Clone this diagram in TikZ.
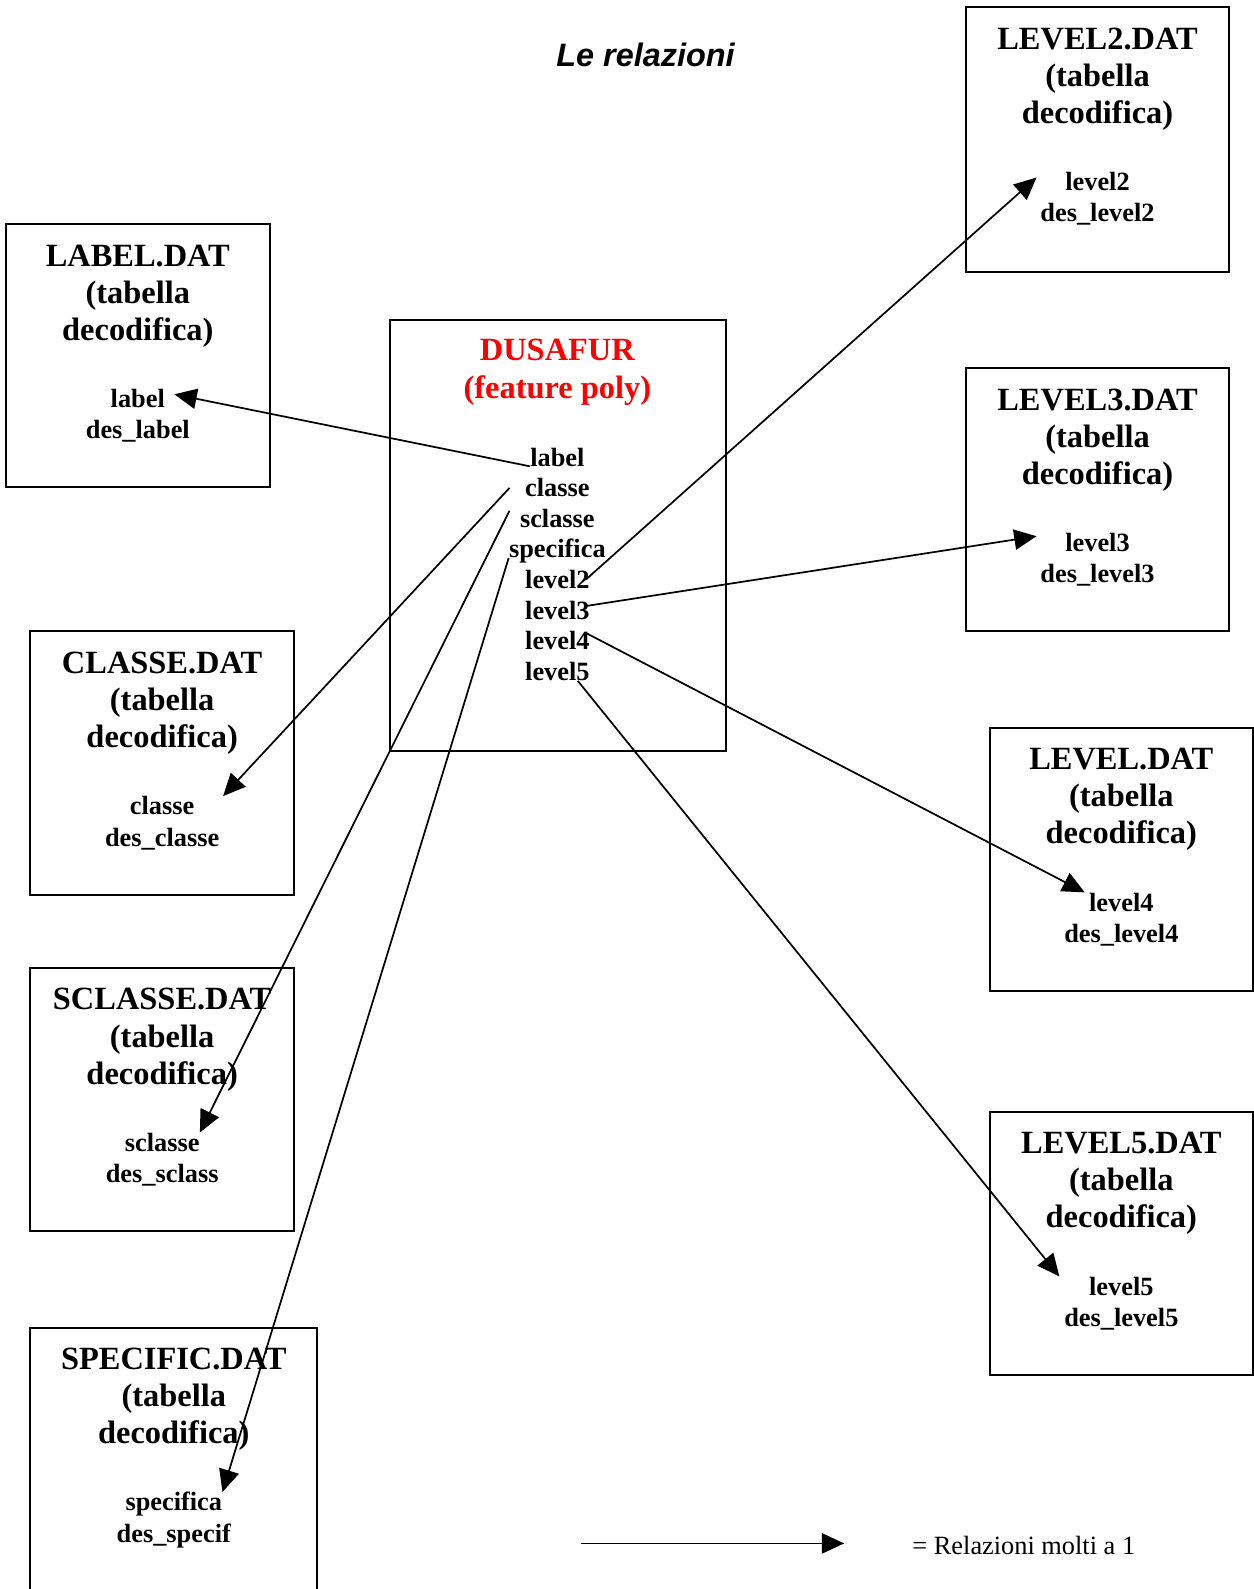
\documentclass[tikz,border=0pt]{standalone}
\usepackage{fontspec}
\setmainfont{Liberation Serif}
\newfontfamily\headfont{Liberation Sans}
\usetikzlibrary{arrows.meta}

\tikzset{
  tbl/.style={draw,line width=1pt,inner sep=0pt},
  ttl/.style={anchor=north,align=center,inner sep=0pt,font=\fontsize{16}{18.3}\selectfont\bfseries},
  fld/.style={anchor=base,inner sep=0pt,font=\fontsize{13}{15.5}\selectfont\bfseries},
  rel/.style={line width=0.85pt,-{Triangle[length=11pt,width=10pt]}}
}

\begin{document}
\begin{tikzpicture}[x=0.5pt,y=-0.5pt]
  \useasboundingbox (0,0) rectangle (1237,1568);

  \node[anchor=base,inner sep=0pt,font=\headfont\fontsize{16}{19}\selectfont\bfseries\itshape] (titolo) at (637,66) {Le relazioni};

  % tabelle di decodifica: nome/sinistra/alto/larghezza/altezza/titolo/campo/descrizione
  \foreach \nm/\x/\y/\w/\h/\ttl/\fa/\fb in {
      lab/6/221/260/260/LABEL.DAT/label/des\_label,
      cla/30/623/260/260/CLASSE.DAT/classe/des\_classe,
      scl/30/955/260/260/SCLASSE.DAT/sclasse/des\_sclass,
      spe/30/1310/283/290/SPECIFIC.DAT/specifica/des\_specif,
      lv2/953/7/260/261/LEVEL2.DAT/level2/des\_level2,
      lv3/953/363/260/260/LEVEL3.DAT/level3/des\_level3,
      lv4/977/718/259/260/LEVEL.DAT/level4/des\_level4,
      lv5/977/1097/259/260/LEVEL5.DAT/level5/des\_level5}
  {
    \node[tbl,minimum width=\w*0.5pt,minimum height=\h*0.5pt] (\nm) at (\x+\w/2,\y+\h/2) {};
    \node[ttl] (\nm-t) at (\x+\w/2,\y+20) {\ttl\\(tabella\\decodifica)};
    \node[fld] (\nm-a) at (\x+\w/2,\y+181) {\fa};
    \node[fld] (\nm-b) at (\x+\w/2,\y+212) {\fb};
  }

  % feature poly
  \node[tbl,minimum width=165.5pt,minimum height=212.5pt] (dus) at (550.5,528.5) {};
  \node[ttl,text=red,font=\fontsize{16}{19}\selectfont\bfseries] (dus-t) at (550,334) {DUSAFUR\\(feature poly)};
  \foreach \f [count=\i] in {label,classe,sclasse,specifica,level2,level3,level4,level5}
    \node[fld] (d-\f) at (550,430+30.15*\i) {\f};

  % relazioni
  \draw[rel] (d-label.base west) -- ([xshift=4.5pt,yshift=2pt]lab-a.east);
  \draw[rel] ([xshift=-7.5pt]d-classe.west) -- ([xshift=14pt]cla-a.north east);
  \draw[rel] ([xshift=-5pt,yshift=-1pt]d-sclasse.north west) -- (scl-a.north east);
  \draw[rel] (d-specifica.base west) -- (spe-a.north east);
  \draw[rel] ([xshift=-2pt]d-level2.east) -- ([xshift=-14pt,yshift=2pt]lv2-a.west);
  \draw[rel] ([xshift=-2pt,yshift=2pt]d-level3.east) -- ([xshift=-14pt,yshift=3pt]lv3-a.west);
  \draw[rel] ([xshift=-2pt,yshift=-1pt]d-level4.north east) -- ([xshift=-2pt]lv4-a.north west);
  \draw[rel] ([xshift=-6pt]d-level5.south east) -- ([xshift=-14.5pt]lv5-a.north west);

  % legenda
  \coordinate (leg-a) at (573,1523);
  \coordinate (leg-b) at (833,1523);
  \draw[rel] (leg-a) -- (leg-b);
  \node[anchor=base west,inner sep=0pt,font=\fontsize{13}{15.5}\selectfont] (leg-t) at (900,1534) {= Relazioni molti a 1};
\end{tikzpicture}
\end{document}
